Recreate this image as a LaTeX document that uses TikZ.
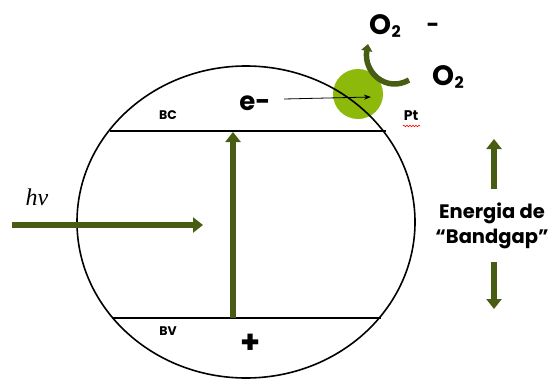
\documentclass[tikz,border=0pt]{standalone}
\usepackage{fontspec}
\setmainfont{Poppins}
\newfontfamily\hvfont{Liberation Serif}
\usetikzlibrary{arrows.meta,shapes.geometric,decorations.pathmorphing}
\definecolor{dgreen}{RGB}{72,92,20}
\definecolor{lgreen}{RGB}{140,185,10}
\newcommand{\oxy}{O\kern0.5pt\raisebox{-0.12em}{\fontsize{16}{16}\selectfont 2}}
\begin{document}
\begin{tikzpicture}[x=1pt,y=-1pt,
  fatarrow/.style={draw=dgreen,line width=6pt,-{Triangle[width=15pt,length=10pt]}},
  band/.style={draw=black,line width=1.8pt},
  lbl/.style={inner sep=0pt,font=\fontsize{12.5}{14}\selectfont\bfseries},
  big/.style={inner sep=0pt,font=\fontsize{26}{30}\selectfont\bfseries},
  oxl/.style={inner sep=0pt,anchor=base west,font=\fontsize{28}{30}\selectfont\bfseries}]
\useasboundingbox (0,0) rectangle (554,380);
% Pt particle
\node[circle,fill=lgreen,minimum size=50pt,inner sep=0pt] (pt) at (358,94) {};
% semiconductor
\node[ellipse,draw,line width=1.6pt,minimum width=338pt,minimum height=312pt,inner sep=0pt] (sc) at (246,222) {};
\coordinate (bcl) at (110,131); \coordinate (bcr) at (386,131);
\coordinate (bvl) at (112,318); \coordinate (bvr) at (381,318);
\draw[band] (bcl) -- (bcr);
\draw[band] (bvl) -- (bvr);
\node[lbl] (bc) at (168,115) {BC};
\node[lbl] (bv) at (168,331) {BV};
% excitation
\coordinate (vb) at (233,318); \coordinate (cb) at (233,132);
\draw[fatarrow] (vb) -- (cb);
\coordinate (hvs) at (12,225); \coordinate (hve) at (203,225);
\draw[fatarrow] (hvs) -- (hve);
\node[inner sep=0pt,font=\fontsize{24}{28}\selectfont\hvfont\itshape] (hv) at (37,197) {hv};
% electron
\node[big] (e) at (255,103) {e-};
\coordinate (et) at (371,97);
\draw[line width=0.8pt,-{Stealth[length=7pt,width=5pt]}] (284,99) -- (et);
\node[inner sep=0pt,font=\fontsize{32}{34}\selectfont\bfseries] (plus) at (251,344) {+};
% Pt label
\node[inner sep=0pt,font=\fontsize{14}{16}\selectfont\bfseries] (ptl) at (411,116) {Pt};
\draw[red,line width=0.6pt,decorate,decoration={snake,amplitude=0.8pt,segment length=3pt}] (403,126) -- (420,126);
% oxygen reduction
\node[oxl] (o2a) at (369,34) {\oxy};
\node[inner sep=0pt,font=\fontsize{22}{24}\selectfont\bfseries] (minus) at (433,28) {-};
\node[oxl] (o2b) at (432,85) {\oxy};
\coordinate (cs) at (409,80); \coordinate (ce) at (368,44);
\draw[draw=dgreen,line width=5.5pt,-{Triangle[width=11pt,length=7pt]}] (cs) .. controls (386,93) and (363,72) .. (ce);
% bandgap energy
\node[inner sep=0pt,align=center,font=\fontsize{19.5}{25}\selectfont\bfseries] (eg) at (492,226) {Energia de\\“Bandgap”};
\coordinate (ua) at (494,189); \coordinate (ub) at (494,139);
\coordinate (da) at (494,262); \coordinate (db) at (494,309);
\draw[fatarrow] (ua) -- (ub);
\draw[fatarrow] (da) -- (db);
\end{tikzpicture}
\end{document}
